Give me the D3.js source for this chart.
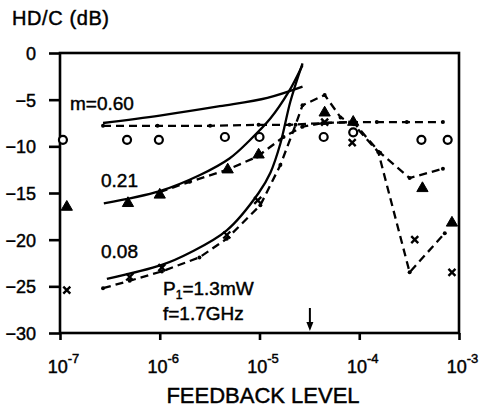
<!DOCTYPE html>
<html><head><meta charset="utf-8">
<script src="https://cdn.jsdelivr.net/npm/d3@7"></script>
<style>
html,body{margin:0;padding:0;background:#fff;}
svg text{font-family:"Liberation Sans",Arial,sans-serif;fill:#000;stroke:#000;stroke-width:0.45px;}
</style></head>
<body>
<svg id="chart" width="483" height="408"></svg>
<script>
// ---- data ----
const xTickExponents = [-7, -6, -5, -4, -3];
const yTicks = [0, -5, -10, -15, -20, -25, -30];

// theory curves (solid)
const theory060X = [2.7e-7, 1.0e-6, 4.0e-6, 1.2e-5, 2.7e-5];
const theory060Y = [-7.5, -6.7, -5.7, -4.8, -3.6];
const theory021X = [2.75e-7, 1.0e-6, 2.5e-6, 5.0e-6, 7.9e-6, 1.29e-5, 1.95e-5, 2.7e-5];
const theory021Y = [-16.1, -14.8, -13.1, -11.3, -9.4, -7.0, -4.2, -1.3];
const theory008X = [2.95e-7, 1.05e-6, 2.0e-6, 4.7e-6, 9.8e-6, 1.29e-5, 1.62e-5, 2.04e-5, 2.7e-5];
const theory008Y = [-24.2, -22.7, -21.4, -19.0, -15.0, -12.8, -9.7, -5.2, -1.1];

// simulation curves (dashed)
const sim060X = [2.7e-7, 9.5e-7, 3.2e-6, 9.8e-6, 2.0e-5, 4.5e-5, 8.7e-5, 1.5e-4, 3.0e-4, 6.9e-4];
const sim060Y = [-7.8, -7.8, -7.8, -7.7, -7.7, -7.5, -7.4, -7.4, -7.4, -7.4];
const sim021X = [1.0e-6, 2.0e-6, 4.8e-6, 9.5e-6, 1.74e-5, 2.7e-5, 4.3e-5, 8.7e-5, 1.62e-4, 3.2e-4, 6.9e-4];
const sim021Y = [-14.9, -13.8, -12.5, -11.1, -9.0, -7.9, -7.5, -7.4, -10.7, -13.4, -12.4];
const sim008X = [2.7e-7, 5.0e-7, 1.05e-6, 2.5e-6, 4.7e-6, 1.02e-5, 1.62e-5, 2.3e-5, 2.7e-5, 4.5e-5, 6.5e-5, 8.7e-5, 1.55e-4, 3.2e-4, 7.2e-4];
const sim008Y = [-25.2, -24.4, -23.4, -21.9, -19.9, -16.3, -12.0, -7.7, -5.6, -4.5, -6.9, -7.6, -10.6, -23.5, -19.3];

// measured points
const meas060X = [1.07e-7, 4.7e-7, 9.8e-7, 4.5e-6, 1.0e-5, 4.4e-5, 8.7e-5, 4.2e-4, 7.7e-4];
const meas060Y = [-9.3, -9.3, -9.3, -9.0, -9.0, -9.0, -8.5, -9.3, -9.3];
const meas021X = [1.17e-7, 4.8e-7, 1.0e-6, 4.8e-6, 9.8e-6, 4.5e-5, 8.7e-5, 4.3e-4, 8.5e-4];
const meas021Y = [-16.5, -16.1, -15.2, -12.5, -10.9, -6.4, -7.4, -14.5, -18.2];
const meas008X = [1.17e-7, 5.0e-7, 1.05e-6, 4.7e-6, 9.6e-6, 4.5e-5, 8.5e-5, 3.6e-4, 8.5e-4];
const meas008Y = [-25.4, -24.0, -23.0, -19.5, -15.8, -7.4, -9.6, -20.0, -23.5];

const arrowX = 3.2e-5;

// ---- drawing ----
const svg = d3.select("#chart");
const x = d3.scaleLog().domain([1e-7, 1e-3]).range([60, 459]);
const y = d3.scaleLinear().domain([-30, 0]).range([333, 53]);
const zip = (xs, ys) => xs.map((v, i) => [v, ys[i]]);

// frame
svg.append("rect").attr("x", 60).attr("y", 53).attr("width", 399).attr("height", 280)
  .attr("fill", "none").attr("stroke", "#000").attr("stroke-width", 2.6);

// y axis
const yAxis = d3.axisLeft(y).tickValues(yTicks).tickSize(11).tickPadding(6);
const ya = svg.append("g").attr("transform", "translate(60,0)").call(yAxis);
ya.select(".domain").remove();
ya.selectAll("line").attr("stroke-width", 2.6);
ya.selectAll("text").attr("font-size", 18).attr("x", -24).attr("dy", "0.36em")
  .style("font-family", "'Liberation Sans',Arial,sans-serif");

// x axis
const xAxis = d3.axisBottom(x).tickValues(xTickExponents.map(e => Math.pow(10, e)))
  .tickSize(7).tickFormat("");
const xa = svg.append("g").attr("transform", "translate(0,333)").call(xAxis);
xa.select(".domain").remove();
xa.selectAll("line").attr("stroke-width", 2.6);
xa.selectAll(".tick").each(function(d, i) {
  const t = d3.select(this).append("text").attr("y", 40).attr("x", 3)
    .attr("text-anchor", "middle").attr("font-size", 18);
  t.append("tspan").text("10");
  t.append("tspan").attr("dy", -10).attr("font-size", 13).text(String(xTickExponents[i]));
});

// axis titles
svg.append("text").attr("x", 12).attr("y", 25).attr("font-size", 20)
  .style("letter-spacing", "0.6px").text("HD/C (dB)");
svg.append("text").attr("x", 263).attr("y", 403).attr("text-anchor", "middle")
  .attr("font-size", 22).text("FEEDBACK LEVEL");

// lines
const lineSmooth = d3.line().x(d => x(d[0])).y(d => y(d[1])).curve(d3.curveCatmullRom.alpha(0.5));
const lineStraight = d3.line().x(d => x(d[0])).y(d => y(d[1]));

[[theory060X, theory060Y], [theory021X, theory021Y], [theory008X, theory008Y]].forEach(([xs, ys]) => {
  svg.append("path").attr("d", lineSmooth(zip(xs, ys))).attr("fill", "none")
    .attr("stroke", "#000").attr("stroke-width", 2.3);
});
[[sim060X, sim060Y], [sim021X, sim021Y], [sim008X, sim008Y]].forEach(([xs, ys]) => {
  svg.append("path").attr("d", lineStraight(zip(xs, ys))).attr("fill", "none")
    .attr("stroke", "#000").attr("stroke-width", 2.3).attr("stroke-dasharray", "8,5");
  svg.append("g").selectAll("circle").data(zip(xs, ys)).join("circle")
    .attr("cx", d => x(d[0])).attr("cy", d => y(d[1])).attr("r", 2).attr("fill", "#000");
});

// measured markers
svg.append("g").selectAll("circle").data(zip(meas060X, meas060Y)).join("circle")
  .attr("cx", d => x(d[0])).attr("cy", d => y(d[1])).attr("r", 4)
  .attr("fill", "#fff").attr("stroke", "#000").attr("stroke-width", 2.2);
const tri = d3.symbol().type(d3.symbolTriangle).size(55);
svg.append("g").selectAll("path").data(zip(meas021X, meas021Y)).join("path")
  .attr("transform", d => `translate(${x(d[0])},${y(d[1])})`).attr("d", tri())
  .attr("fill", "#000").attr("stroke", "#000").attr("stroke-width", 1);
svg.append("g").selectAll("path").data(zip(meas008X, meas008Y)).join("path")
  .attr("d", d => { const cx = x(d[0]), cy = y(d[1]); return `M${cx-3.5},${cy-3.5}L${cx+3.5},${cy+3.5}M${cx+3.5},${cy-3.5}L${cx-3.5},${cy+3.5}`; })
  .attr("stroke", "#000").attr("stroke-width", 2.4).attr("fill", "none");

// labels
const lab = (tx, ty, s) => svg.append("text").attr("x", tx).attr("y", ty).attr("font-size", 19).text(s);
lab(70, 110, "m=0.60");
lab(101, 187, "0.21");
lab(101, 258, "0.08");
const p = svg.append("text").attr("x", 163).attr("y", 295).attr("font-size", 19);
p.append("tspan").text("P");
p.append("tspan").attr("font-size", 12).attr("dy", 4).text("1");
p.append("tspan").attr("dy", -4).text("=1.3mW");
lab(163, 320, "f=1.7GHz");

// arrow
const ax = x(arrowX);
svg.append("line").attr("x1", ax).attr("x2", ax).attr("y1", 308).attr("y2", 325)
  .attr("stroke", "#000").attr("stroke-width", 2);
svg.append("path").attr("d", `M${ax-3.5},${322}L${ax+3.5},${322}L${ax},${331}Z`).attr("fill", "#000");
</script>
</body></html>
